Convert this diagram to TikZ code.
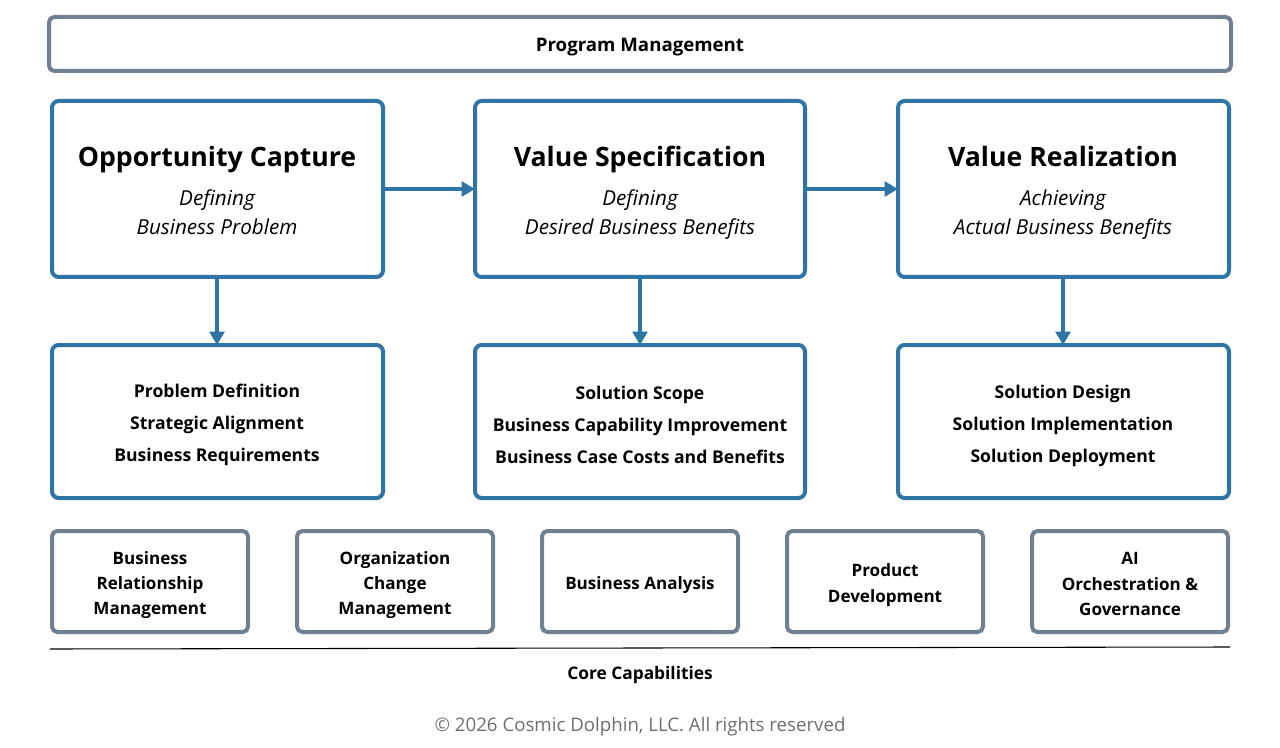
\documentclass[tikz,border=0pt]{standalone}
\usepackage{fontspec}
\setmainfont{Open Sans}
\usetikzlibrary{arrows.meta}
\definecolor{stageblue}{RGB}{46,117,166}
\definecolor{framegray}{RGB}{112,128,144}
\definecolor{notegray}{RGB}{110,110,110}

\begin{document}
\begin{tikzpicture}[x=0.75pt,y=-0.75pt]
  \tikzset{StageStyle/.style = {
    draw          = stageblue,
    line width    = 3pt,
    rounded corners = 5pt
    }
  }
  \tikzset{CoreStyle/.style = {
    draw          = framegray,
    line width    = 3pt,
    rounded corners = 4pt
    }
  }
  \tikzset{FlowStyle/.style = {
    draw          = stageblue,
    line width    = 3pt,
    -{Triangle[length=10pt,width=11pt]}
    }
  }
  \tikzset{TitleStyle/.style = {
    anchor        = base,
    font          = \fontsize{20}{24}\selectfont\bfseries
    }
  }
  \tikzset{SubStyle/.style = {
    align         = center,
    text depth    = 4pt,
    font          = \fontsize{15.5}{22}\selectfont\itshape
    }
  }
  \tikzset{ListStyle/.style = {
    align         = center,
    font          = \fontsize{13.2}{24}\selectfont\bfseries
    }
  }
  \tikzset{CapStyle/.style = {
    align         = center,
    font          = \fontsize{12.8}{19}\selectfont\bfseries
    }
  }
  \useasboundingbox (0,0) rectangle (1280,748);

  \draw[CoreStyle] (49,17) rectangle (1231,71);
  \node[font=\fontsize{14}{16}\selectfont\bfseries](PM) at (640,47) {Program Management};

  % stages
  \draw[StageStyle] (52,101) rectangle (383,277);
  \draw[StageStyle] (475,101) rectangle (805,277);
  \draw[StageStyle] (898,101) rectangle (1229,277);
  \node[TitleStyle](T1) at (217,167) {Opportunity Capture};
  \node[TitleStyle](T2) at (640,167) {Value Specification};
  \node[TitleStyle](T3) at (1063,167) {Value Realization};
  \node[SubStyle](S1) at (217,215) {Defining\\Business Problem};
  \node[SubStyle](S2) at (640,215) {Defining\\Desired Business Benefits};
  \node[SubStyle](S3) at (1063,215) {Achieving\\Actual Business Benefits};
  \coordinate (A1) at (383,189); \coordinate (A2) at (475,189);
  \coordinate (A3) at (805,189); \coordinate (A4) at (898,189);
  \draw[FlowStyle] (A1) -- (A2);
  \draw[FlowStyle] (A3) -- (A4);

  % activities
  \draw[StageStyle] (52,345) rectangle (383,498);
  \draw[StageStyle] (475,345) rectangle (805,498);
  \draw[StageStyle] (898,345) rectangle (1229,498);
  \node[ListStyle](L1) at (217,425) {Problem Definition\\Strategic Alignment\\Business Requirements};
  \node[ListStyle](L2) at (640,425) {Solution Scope\\Business Capability Improvement\\Business Case Costs and Benefits};
  \node[ListStyle](L3) at (1063,426) {Solution Design\\Solution Implementation\\Solution Deployment};
  \foreach \x/\n in {217/1,640/2,1063/3}{
    \coordinate (U\n) at (\x,277); \coordinate (D\n) at (\x,345);
    \draw[FlowStyle] (U\n) -- (D\n);
  }

  % core capabilities
  \foreach \x in {52,297,542,787,1032}
    \draw[CoreStyle] (\x,531) rectangle (\x+196,632);
  \node[CapStyle](C1) at (150,585) {Business\\Relationship\\Management};
  \node[CapStyle](C2) at (395,585) {Organization\\Change\\Management};
  \node[CapStyle](C3) at (640,585) {Business Analysis};
  \node[CapStyle](C4) at (885,585) {Product\\Development};
  \node[CapStyle](C5) at (1130,584) {AI\\Orchestration \&\\Governance};
  \draw[line width=0.8pt] (50,649) -- (1230,647);
  \node[font=\fontsize{13}{16}\selectfont\bfseries](CC) at (640,675) {Core Capabilities};
  \node[text=notegray,font=\fontsize{14}{16}\selectfont](CR) at (640,727) {© 2026 Cosmic Dolphin, LLC. All rights reserved};
\end{tikzpicture}
\end{document}
